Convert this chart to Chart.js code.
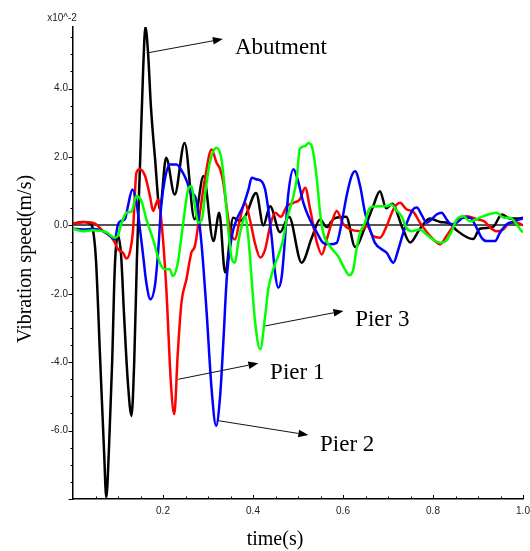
<!DOCTYPE html>
<html>
<head>
<meta charset="utf-8">
<script src="https://cdn.jsdelivr.net/npm/chart.js@4.4.1/dist/chart.umd.min.js"></script>
<style>
html,body{margin:0;padding:0;background:#fff;}
#c{display:block;}
</style>
</head>
<body>
<canvas id="c" width="530" height="551"></canvas>
<script>
// ---- tick labels ----
const xTickVals = [0.2, 0.4, 0.6, 0.8, 1.0];
const yTickVals = [-6, -4, -2, 0, 2, 4];
const unitLabel = "x10^-2";
const xTitle = "time(s)";
const yTitle = "Vibration speed(m/s)";

// ---- series: Abutment (black) ----
const abutT = [0,0.022,0.038,0.044,0.051,0.060,0.069,0.074,0.080,0.087,0.093,0.100,0.107,0.113,0.122,0.130,0.136,0.142,0.149,0.156,0.161,0.167,0.173,0.182,0.193,0.207,0.226,0.248,0.270,0.290,0.312,0.325,0.338,0.356,0.371,0.384,0.407,0.423,0.438,0.460,0.480,0.508,0.531,0.549,0.564,0.580,0.607,0.627,0.649,0.667,0.682,0.696,0.709,0.733,0.749,0.771,0.793,0.816,0.838,0.853,0.889,0.904,0.933,0.953,0.971,0.987,1.0];
const abutV = [0.05,0.1,0.05,-0.1,-1.0,-3.8,-6.6,-7.95,-6.5,-4.0,-1.2,-0.3,-0.9,-2.5,-4.6,-5.57,-4.0,-1.0,1.8,4.6,5.8,5.0,3.5,2.0,0.47,1.98,0.9,2.41,0.18,1.44,-0.46,0.37,-1.38,0.22,0.13,0.3,0.95,0.0,0.56,-0.2,0.25,-1.09,-0.35,0.17,-0.05,0.2,0.25,-0.63,-0.05,0.56,1.0,0.5,0.63,-0.1,-0.5,-0.1,0.2,0.1,0.05,-0.15,-0.4,-0.1,-0.05,0.32,0.2,0.2,0.22];

// ---- series: Pier 1 (red) ----
const pier1T = [0,0.027,0.049,0.067,0.082,0.093,0.100,0.111,0.119,0.127,0.133,0.141,0.148,0.160,0.171,0.178,0.189,0.196,0.207,0.218,0.225,0.233,0.241,0.252,0.263,0.271,0.282,0.293,0.308,0.319,0.327,0.334,0.342,0.349,0.360,0.371,0.382,0.393,0.404,0.416,0.427,0.438,0.449,0.462,0.475,0.490,0.504,0.516,0.527,0.542,0.553,0.564,0.575,0.586,0.601,0.616,0.638,0.653,0.667,0.682,0.697,0.712,0.727,0.741,0.756,0.771,0.797,0.816,0.830,0.845,0.860,0.875,0.897,0.916,0.927,0.942,0.956,0.971,0.987,1.0];
const pier1V = [0.05,0.1,0.05,-0.17,-0.3,-0.5,-0.7,-0.8,-0.97,-0.75,-0.2,1.54,1.64,1.45,0.86,0.42,0.76,0.18,-1.77,-4.7,-5.52,-3.7,-2.26,-1.58,-0.8,-0.6,0.37,1.34,2.22,1.83,1.64,1.25,0.47,-0.12,-0.41,0.18,0.66,0.18,-0.5,-0.94,-0.7,-0.02,0.37,0.25,0.56,0.66,0.76,1.1,0.47,-0.5,-0.85,-0.41,0.08,0.42,0.03,-0.12,-0.17,-0.02,-0.31,-0.36,-0.02,0.47,0.66,0.47,0.4,0.08,-0.36,-0.55,-0.31,-0.02,0.22,0.27,0.18,0.1,-0.07,-0.17,-0.12,0.08,0.08,0.0];

// ---- series: Pier 2 (blue) ----
const pier2T = [0,0.022,0.044,0.067,0.082,0.093,0.100,0.107,0.116,0.122,0.132,0.141,0.148,0.156,0.163,0.172,0.182,0.189,0.196,0.204,0.215,0.230,0.244,0.253,0.262,0.271,0.278,0.286,0.297,0.308,0.318,0.327,0.334,0.342,0.353,0.364,0.378,0.390,0.397,0.407,0.419,0.427,0.434,0.442,0.449,0.456,0.464,0.471,0.478,0.490,0.500,0.512,0.523,0.542,0.556,0.571,0.586,0.597,0.608,0.619,0.627,0.638,0.649,0.660,0.671,0.686,0.697,0.712,0.723,0.734,0.745,0.756,0.764,0.775,0.786,0.797,0.808,0.819,0.830,0.840,0.853,0.867,0.882,0.897,0.908,0.919,0.938,0.949,0.964,0.978,0.993,1.0];
const pier2V = [-0.1,-0.12,-0.1,-0.17,-0.3,-0.4,0.03,0.13,0.2,0.56,1.05,0.66,-0.02,-0.9,-1.68,-2.16,-1.77,-0.8,0.56,1.34,1.78,1.78,1.54,1.29,0.95,0.86,0.37,-0.6,-2.55,-4.79,-5.86,-4.98,-3.43,-1.48,-0.31,0.18,0.56,1.05,1.39,1.35,1.29,1.05,0.47,-0.41,-1.39,-1.82,-1.48,-0.41,0.86,1.64,1.3,0.66,0.27,-0.21,-0.51,-0.55,-0.51,0.08,0.86,1.44,1.58,1.15,0.37,-0.12,-0.51,-0.7,-0.8,-1.09,-0.7,-0.21,0.18,0.47,0.52,0.3,0.08,0.18,0.32,0.37,0.18,0.03,0.08,0.22,0.22,-0.07,-0.36,-0.46,-0.46,-0.21,0.03,0.1,0.18,0.2];

// ---- series: Pier 3 (green) ----
const pier3T = [0,0.022,0.044,0.074,0.093,0.100,0.107,0.119,0.130,0.141,0.152,0.163,0.178,0.193,0.204,0.215,0.222,0.233,0.244,0.256,0.263,0.270,0.278,0.287,0.293,0.304,0.319,0.330,0.338,0.345,0.353,0.360,0.367,0.375,0.382,0.390,0.397,0.404,0.416,0.427,0.434,0.445,0.456,0.467,0.475,0.486,0.497,0.504,0.516,0.523,0.531,0.542,0.549,0.556,0.571,0.589,0.604,0.614,0.623,0.630,0.638,0.649,0.656,0.667,0.697,0.708,0.718,0.730,0.741,0.752,0.771,0.784,0.800,0.816,0.829,0.840,0.853,0.867,0.882,0.897,0.912,0.941,0.958,0.971,0.986,0.997,1.0];
const pier3V = [-0.1,-0.17,-0.14,-0.2,-0.36,-0.3,0.03,0.37,0.4,0.86,0.71,0.18,-0.41,-1.09,-1.28,-1.28,-1.48,-1.09,-0.02,1.05,1.15,0.66,0.08,0.2,0.86,1.83,2.27,1.93,0.95,-0.12,-0.99,-1.09,-0.51,-0.02,0.27,-0.41,-1.58,-2.74,-3.62,-2.65,-1.86,-1.28,-0.89,-0.41,0.18,0.66,1.34,2.24,2.32,2.41,2.3,1.34,0.37,-0.22,-0.61,-0.9,-1.28,-1.46,-1.28,-0.7,-0.21,0.08,0.42,0.55,0.56,0.61,0.45,0.27,-0.07,-0.17,-0.12,-0.25,-0.41,-0.51,-0.45,-0.21,0.18,0.27,0.12,0.18,0.27,0.37,0.22,0.22,0.03,-0.17,-0.2];

// ---- callouts (label, arrow from -> to, text anchor) in data units ----
const callouts = [
  {text: "Abutment", from: [0.164, 5.04],  to: [0.333, 5.45],  at: [0.360, 5.02]},
  {text: "Pier 3",   from: [0.427, -2.94], to: [0.601, -2.50], at: [0.627, -2.94]},
  {text: "Pier 1",   from: [0.234, -4.50], to: [0.412, -4.03], at: [0.438, -4.50]},
  {text: "Pier 2",   from: [0.323, -5.71], to: [0.523, -6.13], at: [0.549, -6.59]}
];

const SANS = "'Liberation Sans', Arial, sans-serif";
const SERIF = "'Liberation Serif', 'Times New Roman', serif";

function series(label, ts, vs, color) {
  const pts = ts.map((t, i) => ({x: t, y: vs[i]}));
  return {
    label, data: pts, borderColor: color, backgroundColor: color,
    borderWidth: 2.5, pointRadius: 0, fill: false,
    cubicInterpolationMode: 'monotone'
  };
}

const decor = {
  id: 'decor',
  afterDraw(chart) {
    const {ctx, chartArea: a, scales: {x, y}} = chart;
    ctx.save();
    // tick marks
    ctx.strokeStyle = '#000';
    ctx.lineWidth = 1;
    for (let i = -16; i <= 11; i++) {
      const py = Math.round(y.getPixelForValue(i / 2)) + 0.5;
      const len = (i % 4 === 0) ? 4.5 : 2.5;
      ctx.beginPath(); ctx.moveTo(a.left - len, py); ctx.lineTo(a.left, py); ctx.stroke();
    }
    for (let i = 1; i <= 20; i++) {
      const px = Math.round(x.getPixelForValue(i / 20)) + 0.5;
      const len = (i % 4 === 0) ? 4 : 2.5;
      ctx.beginPath(); ctx.moveTo(px, a.bottom); ctx.lineTo(px, a.bottom - len); ctx.stroke();
    }
    // unit label
    ctx.fillStyle = '#222';
    ctx.font = "10px " + SANS;
    ctx.textAlign = 'center';
    ctx.textBaseline = 'middle';
    ctx.fillText(unitLabel, a.left - 11, a.top - 9);
    // axis titles
    ctx.fillStyle = '#000';
    ctx.font = "20px " + SERIF;
    ctx.textBaseline = 'alphabetic';
    ctx.fillText(xTitle, 275, 545);
    ctx.save();
    ctx.translate(30.5, 259);
    ctx.rotate(-Math.PI / 2);
    ctx.fillText(yTitle, 0, 0);
    ctx.restore();
    // callouts
    ctx.strokeStyle = '#111';
    ctx.fillStyle = '#000';
    ctx.lineWidth = 1;
    ctx.font = "23px " + SERIF;
    ctx.textAlign = 'left';
    callouts.forEach(c => {
      const x1 = x.getPixelForValue(c.from[0]), y1 = y.getPixelForValue(c.from[1]);
      const x2 = x.getPixelForValue(c.to[0]), y2 = y.getPixelForValue(c.to[1]);
      const ang = Math.atan2(y2 - y1, x2 - x1);
      const L = 10, W = 3.8;
      const bx = x2 - L * Math.cos(ang), by = y2 - L * Math.sin(ang);
      ctx.beginPath(); ctx.moveTo(x1, y1); ctx.lineTo(bx, by); ctx.stroke();
      ctx.beginPath();
      ctx.moveTo(x2, y2);
      ctx.lineTo(bx - W * Math.sin(ang), by + W * Math.cos(ang));
      ctx.lineTo(bx + W * Math.sin(ang), by - W * Math.cos(ang));
      ctx.closePath(); ctx.fill();
      ctx.fillText(c.text, x.getPixelForValue(c.at[0]), y.getPixelForValue(c.at[1]));
    });
    ctx.restore();
  }
};

new Chart(document.getElementById('c'), {
  type: 'line',
  data: {
    datasets: [
      series('Pier 3', pier3T, pier3V, '#00ff00'),
      series('Pier 2', pier2T, pier2V, '#0000ff'),
      series('Pier 1', pier1T, pier1V, '#ff0000'),
      series('Abutment', abutT, abutV, '#000000')
    ]
  },
  options: {
    responsive: false,
    animation: false,
    devicePixelRatio: 1,
    layout: {padding: {left: 0, right: 7, top: 27, bottom: 0}},
    plugins: {legend: {display: false}, tooltip: {enabled: false}},
    scales: {
      x: {
        type: 'linear', position: 'bottom', min: 0, max: 1,
        border: {display: true, color: '#000', width: 1.5},
        grid: {display: false, drawTicks: false},
        ticks: {padding: 6, color: '#222', font: {family: SANS, size: 10}, maxRotation: 0, autoSkip: false,
                callback: v => Number(v).toFixed(1)},
        afterBuildTicks: s => { s.ticks = xTickVals.map(v => ({value: v})); },
        afterFit: s => { s.height = 52; s.paddingLeft = 0; s.paddingRight = 0; }
      },
      y: {
        type: 'linear', position: 'left', min: -8, max: 5.8,
        border: {display: true, color: '#000', width: 1.5},
        grid: {display: true, drawTicks: false, drawOnChartArea: true, lineWidth: 2,
               color: c => (c.tick && c.tick.value === 0) ? '#555555' : 'rgba(0,0,0,0)'},
        ticks: {padding: 5, color: '#222', font: {family: SANS, size: 10}, autoSkip: false,
                callback: v => Number(v).toFixed(1)},
        afterBuildTicks: s => { s.ticks = yTickVals.map(v => ({value: v})); },
        afterFit: s => { s.width = 73; s.paddingTop = 0; s.paddingBottom = 0; }
      }
    }
  },
  plugins: [decor]
});
</script>
</body>
</html>
